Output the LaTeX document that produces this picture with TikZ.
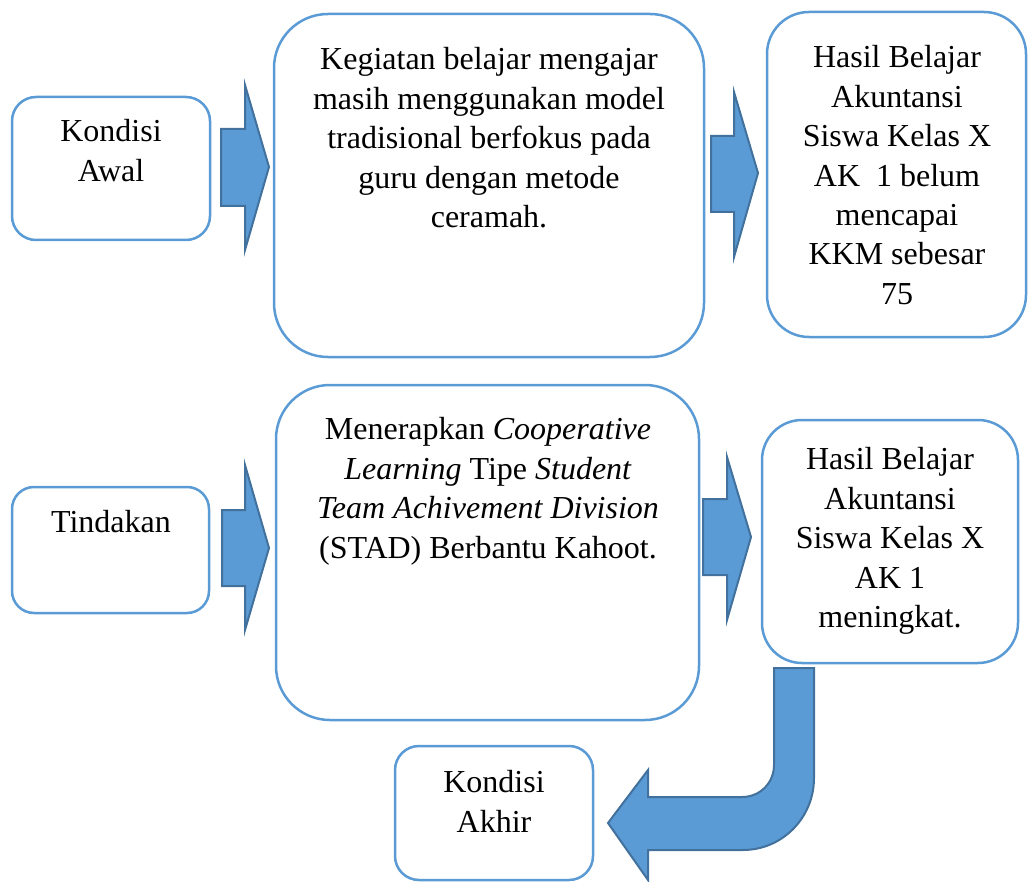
\documentclass[tikz,border=0pt]{standalone}
\usepackage{fontspec}
\setmainfont{Liberation Serif}
\definecolor{boxblue}{HTML}{5B9BD5}
\definecolor{arrowfill}{HTML}{5B9BD5}
\definecolor{arrowline}{HTML}{41719C}
\begin{document}
\begin{tikzpicture}[x=0.5pt,y=-0.5pt,
  box/.style={draw=boxblue,line width=1.25pt,fill=white,inner sep=0pt,rectangle},
  txt/.style={anchor=north,inner sep=0pt,align=center,font=\fontsize{16}{19.7}\selectfont},
  blockarrow/.style={fill=arrowfill,draw=arrowline,line width=1pt,line join=miter}]
\useasboundingbox (0,0) rectangle (1028,882);
% boxes
\node[box,rounded corners=12pt,minimum width=99pt,minimum height=71.5pt] (b1) at (111,168.5) {};
\node[box,rounded corners=27pt,minimum width=215pt,minimum height=171.5pt] (b2) at (489,185.5) {};
\node[box,rounded corners=21pt,minimum width=129.5pt,minimum height=162.5pt] (b3) at (896.5,174.5) {};
\node[box,rounded corners=11pt,minimum width=98.5pt,minimum height=63pt] (b4) at (110.5,550) {};
\node[box,rounded corners=27pt,minimum width=211.5pt,minimum height=167.5pt] (b5) at (487.5,552.5) {};
\node[box,rounded corners=20pt,minimum width=128pt,minimum height=121.5pt] (b6) at (890,541.5) {};
\node[box,rounded corners=12pt,minimum width=99pt,minimum height=67pt] (b7) at (494,813) {};
% texts
\node[txt] (t1) at (111,114) {\strut Kondisi\\Awal};
\node[txt] (t2) at (489,42) {\strut Kegiatan belajar mengajar\\masih menggunakan model\\tradisional berfokus pada\\guru dengan metode\\ceramah.};
\node[txt] (t3) at (897,40) {\strut Hasil Belajar\\Akuntansi\\Siswa Kelas X\\AK\ \ 1 belum\\mencapai\\KKM sebesar\\75};
\node[txt] (t4) at (111,505) {\strut Tindakan};
\node[txt] (t5) at (488,412) {\strut Menerapkan \textit{Cooperative}\\\textit{Learning} Tipe \textit{Student}\\\textit{Team Achivement Division}\\(STAD) Berbantu Kahoot.};
\node[txt] (t6) at (890,442) {\strut Hasil Belajar\\Akuntansi\\Siswa Kelas X\\AK 1\\meningkat.};
\node[txt] (t7) at (494,765) {\strut Kondisi\\Akhir};
% block arrows
\draw[blockarrow] (221,129) -- (245,129) -- (245,85) -- (269,167) -- (245,250) -- (245,206) -- (221,206) -- cycle;
\draw[blockarrow] (711,136) -- (734,136) -- (734,92) -- (758,173) -- (734,257) -- (734,212) -- (711,212) -- cycle;
\draw[blockarrow] (222,510) -- (245,510) -- (245,465) -- (269,548) -- (245,630) -- (245,586) -- (222,586) -- cycle;
\draw[blockarrow] (703,499) -- (727,499) -- (727,457) -- (751,537) -- (727,620) -- (727,575) -- (703,575) -- cycle;
% bent arrow
\draw[blockarrow] (774,668) -- (814,668) -- (814,778)
  .. controls (814,818) and (782,850) .. (743,850)
  -- (648,850) -- (648,880) -- (608,823) -- (648,770) -- (648,797) -- (742,797)
  .. controls (760,797) and (774,783) .. (774,765) -- cycle;
\end{tikzpicture}
\end{document}
